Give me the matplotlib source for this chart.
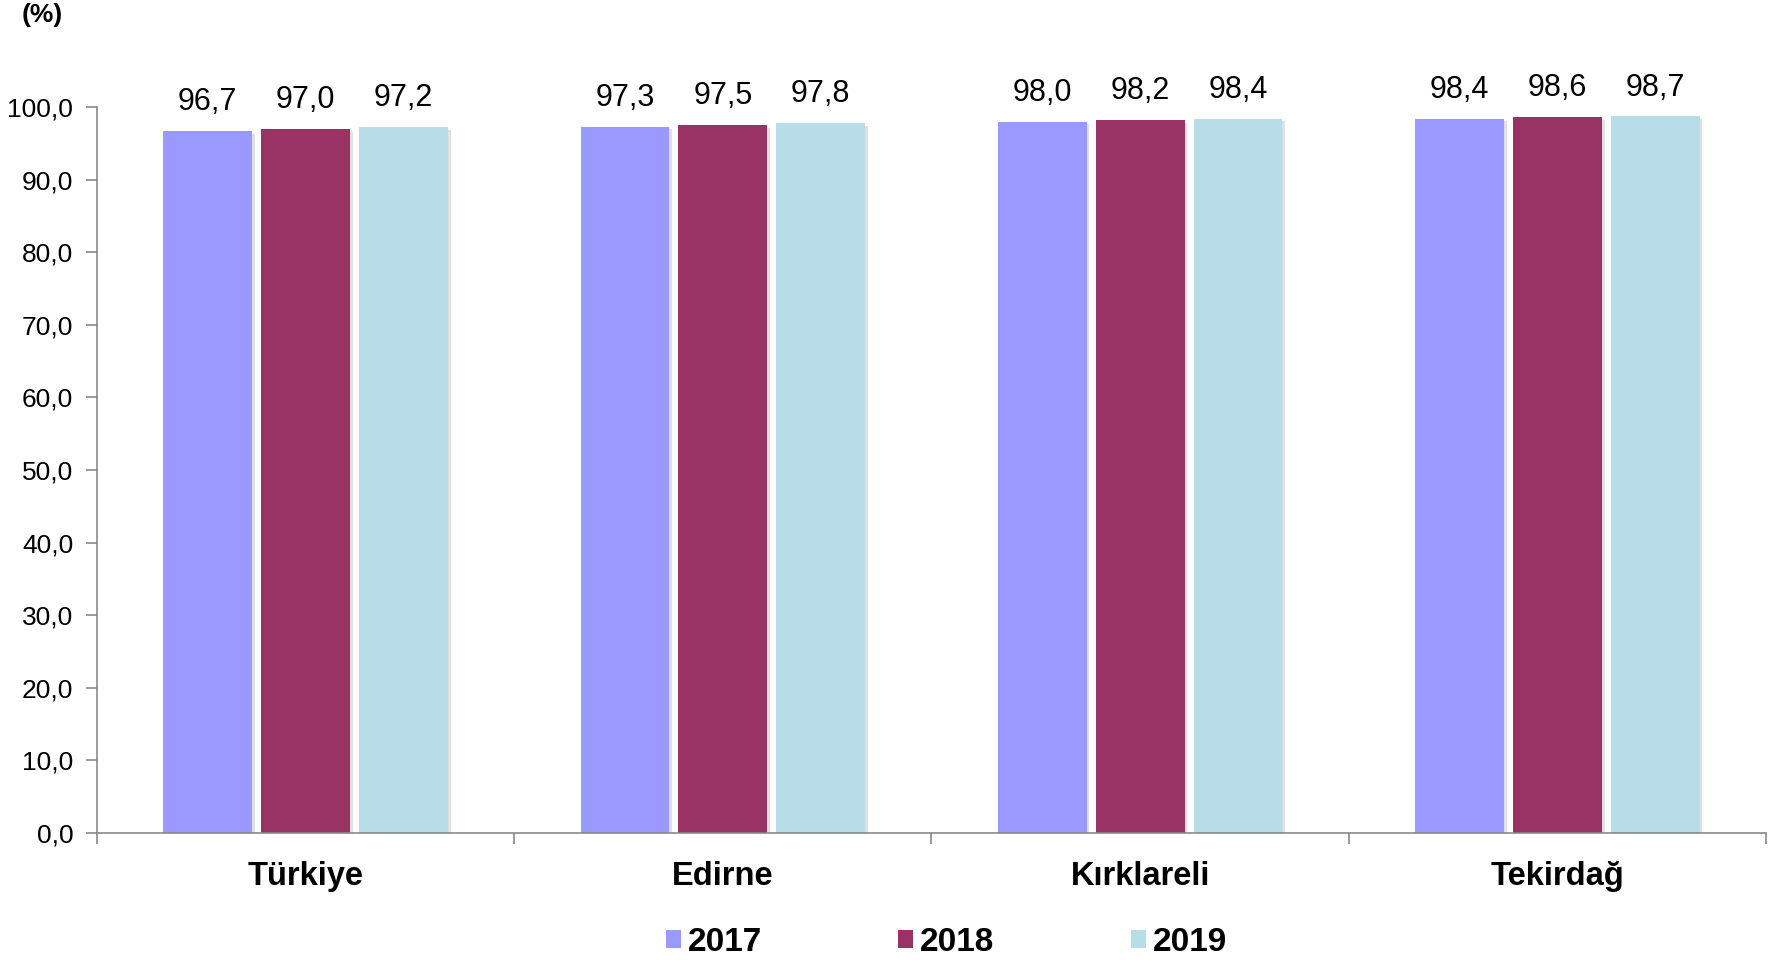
import numpy as np
import matplotlib
matplotlib.use('Agg')
import matplotlib.pyplot as plt
import matplotlib.patheffects as pe

plt.rcParams['font.family'] = ['Liberation Sans', 'DejaVu Sans']

categories = ['Türkiye', 'Edirne', 'Kırklareli', 'Tekirdağ']
years = ['2017', '2018', '2019']
v2017 = [96.7, 97.3, 98.0, 98.4]
v2018 = [97.0, 97.5, 98.2, 98.6]
v2019 = [97.2, 97.8, 98.4, 98.7]
yticks = [0, 10, 20, 30, 40, 50, 60, 70, 80, 90, 100]
colors = ['#9999FF', '#993366', '#B7DEE8']

fig = plt.figure(figsize=(17.79, 9.6), dpi=100)
ax = fig.add_axes([0.0545, 0.1323, 0.9382, 0.7562])

x = np.arange(len(categories))
w = 0.213
gap = 0.0215
series = [v2017, v2018, v2019]
for i, vals in enumerate(series):
    pos = x + (i - 1) * (w + gap)
    bars = ax.bar(pos, vals, width=w, color=colors[i], label=years[i], zorder=2)
    for b in bars:
        b.set_path_effects([pe.SimplePatchShadow(offset=(2, -2), shadow_rgbFace='#999999', alpha=0.3), pe.Normal()])
    for p, v in zip(pos, vals):
        ax.annotate(('%.1f' % v).replace('.', ','), (p, v), xytext=(0, 10), textcoords='offset points',
                    ha='center', va='bottom', fontsize=22)

ax.set_xlim(-0.5, len(categories) - 0.5)
ax.set_ylim(0, 100)
ax.set_yticks(yticks)
ax.set_yticklabels([('%.1f' % t).replace('.', ',') for t in yticks], fontsize=19)
ax.set_xticks(x)
ax.set_xticklabels(categories, fontsize=23.5, fontweight='bold')
ax.set_xticks(np.arange(len(categories) + 1) - 0.5, minor=True)
ax.tick_params(axis='x', which='major', length=0, pad=20)
ax.tick_params(axis='x', which='minor', length=8, color='#898989', width=1.2, direction='out')
ax.tick_params(axis='y', length=8, color='#898989', width=1.2, pad=9)

for s in ['top', 'right']:
    ax.spines[s].set_visible(False)
for s in ['left', 'bottom']:
    ax.spines[s].set_color('#898989')
    ax.spines[s].set_linewidth(1.2)

fig.text(0.0124, 0.997, '(%)', fontsize=19, fontweight='bold', ha='left', va='top')

leg = fig.legend(loc='center', bbox_to_anchor=(0.532, 0.018), ncol=3, frameon=False,
                 prop={'size': 24, 'weight': 'bold'}, handlelength=0.45, handleheight=0.45,
                 handletextpad=0.2, columnspacing=4.1)
for h in leg.legend_handles:
    h.set_path_effects([])

fig.savefig('out.png', dpi=100)
